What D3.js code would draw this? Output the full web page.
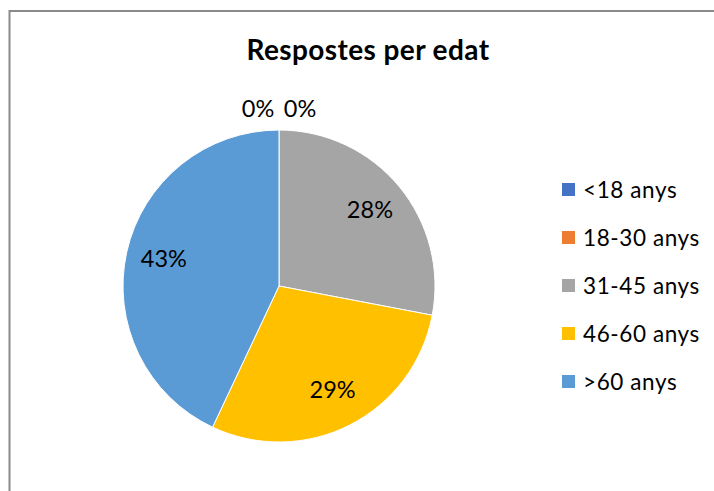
<!DOCTYPE html>
<html>
<head>
<meta charset="utf-8">
<script src="https://cdn.jsdelivr.net/npm/d3@7"></script>
<style>
  html, body { margin: 0; padding: 0; background: #fff; }
  svg { display: block; }
  text { font-family: Lato, "Open Sans", sans-serif; fill: #000; }
</style>
</head>
<body>
<svg id="chart" width="714" height="491"></svg>
<script>
// Age groups and their share of responses (%)
const categories = ["<18 anys", "18-30 anys", "31-45 anys", "46-60 anys", ">60 anys"];
const shares = [0, 0, 28, 29, 43];
const colors = ["#4472C4", "#ED7D31", "#A5A5A5", "#FFC000", "#5B9BD5"];
const title = "Respostes per edat";

const svg = d3.select("#chart");

// Chart frame
svg.append("rect")
  .attr("x", 9.5).attr("y", 11)
  .attr("width", 900).attr("height", 700)
  .attr("fill", "none")
  .attr("stroke", "#8a8a8a")
  .attr("stroke-width", 2);

// Title
svg.append("text")
  .attr("x", 368).attr("y", 60)
  .attr("text-anchor", "middle")
  .style("font-weight", "bold")
  .style("font-size", "28px")
  .style("letter-spacing", "0.4px")
  .text(title);

// Pie
const cx = 279, cy = 286, radius = 156;
const data = categories.map((c, i) => ({ name: c, value: shares[i], color: colors[i] }));

const pie = d3.pie().sort(null).value(d => d.value);
const arcs = pie(data);
const arc = d3.arc().innerRadius(0).outerRadius(radius);
const labelArc = d3.arc().innerRadius(118).outerRadius(118);

const g = svg.append("g").attr("transform", `translate(${cx},${cy})`);

g.selectAll("path.slice")
  .data(arcs.filter(d => d.value > 0))
  .join("path")
  .attr("class", "slice")
  .attr("d", arc)
  .attr("fill", d => d.data.color)
  .attr("stroke", "#fff")
  .attr("stroke-width", 1);

// Percentage labels; empty slices sit above the pie, spread sideways
const zeroArcs = arcs.filter(d => d.value === 0);
g.selectAll("text.lbl")
  .data(arcs)
  .join("text")
  .attr("class", "lbl")
  .attr("text-anchor", "middle")
  .style("font-size", "23.5px")
  .attr("transform", d => {
    if (d.value === 0) {
      const k = zeroArcs.indexOf(d);
      const dx = (k - (zeroArcs.length - 1) / 2) * 42;
      return `translate(${dx},${-radius - 13})`;
    }
    const [x, y] = labelArc.centroid(d);
    return `translate(${x},${y + 7})`;
  })
  .text(d => d.value + "%");

// Legend
const legend = svg.append("g").attr("transform", "translate(562,183)");
const row = legend.selectAll("g")
  .data(data)
  .join("g")
  .attr("transform", (d, i) => `translate(0,${i * 48})`);
row.append("rect")
  .attr("width", 13).attr("height", 13)
  .attr("fill", d => d.color);
row.append("text")
  .attr("x", 21).attr("y", 14.5)
  .style("font-size", "22.5px")
  .style("letter-spacing", "0.6px")
  .text(d => d.name);
</script>
</body>
</html>
